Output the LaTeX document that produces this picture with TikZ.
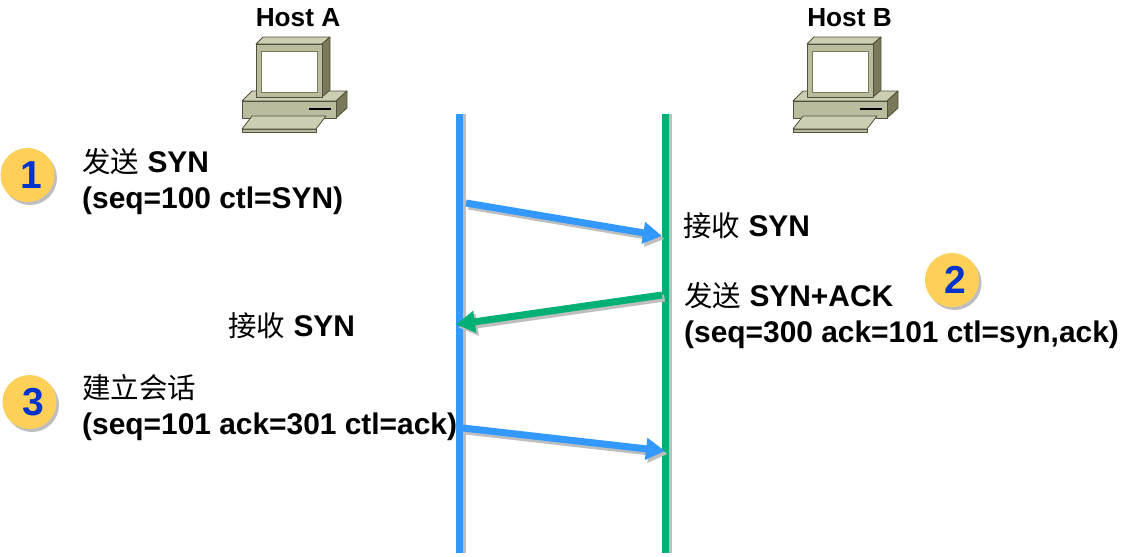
\documentclass[tikz,border=0pt]{standalone}
\usepackage{fontspec}
\setmainfont{Liberation Sans}
\newfontfamily\cjk{Noto Sans CJK SC}
\usetikzlibrary{arrows.meta,positioning}
\definecolor{lineA}{RGB}{51, 153, 255}
\definecolor{lineB}{RGB}{0, 176, 116}
\definecolor{shadowgrey}{RGB}{190, 190, 190}
\definecolor{badgefill}{RGB}{255, 208, 87}
\definecolor{digit}{RGB}{0, 51, 204}
\definecolor{pcface}{RGB}{187, 187, 158}
\definecolor{pclight}{RGB}{205, 205, 178}
\definecolor{pcdark}{RGB}{122, 122, 90}
\definecolor{pcedge}{RGB}{80, 80, 60}
\newcommand{\zh}[1]{{\cjk\mdseries\fontsize{28.5}{36}\selectfont #1}}
\tikzstyle{hostname} = [inner sep=0pt, font=\fontsize{26.2}{30}\selectfont\bfseries]
\tikzstyle{note} = [inner sep=0pt, align=left, anchor=west, font=\fontsize{29.9}{36}\selectfont\bfseries]
\tikzstyle{badgeo} = [circle, fill=badgefill, minimum size=54pt, inner sep=0pt, text=digit, font=\fontsize{39}{39}\selectfont\bfseries]
\tikzstyle{badgeback} = [circle, fill=shadowgrey, minimum size=54pt, inner sep=0pt]
\tikzstyle{life} = [line width=7pt]
\tikzstyle{msg} = [line width=7pt, -{Triangle[length=19pt,width=21pt]}]
\tikzset{
  pics/hostpc/.style={code={
    \begin{scope}[draw=pcedge, line width=0.8pt, line join=round]
    % base
    \draw[fill=pclight] (-46,-6) -- (-36,-16) -- (59,-16) -- (48,-6) -- cycle;
    \draw[fill=pcdark] (48,-6) -- (59,-16) -- (59,1) -- (48,11) -- cycle;
    \draw[fill=pcface] (-46,-6) rectangle (48,11);
    \draw[black, line width=1.2pt] (21,2) -- (43,2);
    % monitor
    \draw[fill=pclight] (-32,-63) -- (-25,-70) -- (42,-70) -- (34,-63) -- cycle;
    \draw[fill=pcdark] (34,-63) -- (42,-70) -- (42,-17) -- (34,-10) -- cycle;
    \draw[fill=pcface] (-32,-63) rectangle (34,-10);
    \draw[fill=white, draw=pcdark] (-27,-56) rectangle (29,-15);
    % keyboard
    \draw[fill=pcface] (-46,22) -- (28,22) -- (28,25) -- (-46,25) -- cycle;
    \draw[fill=pclight] (-36,9) -- (38,9) -- (28,22) -- (-46,22) -- cycle;
    \end{scope}
  }}
}

\begin{document}
\begin{tikzpicture}[x=1pt, y=-1pt]
\useasboundingbox (0,0) rectangle (1128,557);

% hosts =============================
\pic at (288,107) {hostpc};
\pic at (839,107) {hostpc};
\node[hostname] (hosta) at (298,18) {Host A};
\node[hostname] (hostb) at (849.5,18) {Host B};

% lifelines
\coordinate (a0) at (459.5,114);
\coordinate (a1) at (459.5,553);
\coordinate (b0) at (665.5,114);
\coordinate (b1) at (665.5,553);
\draw[life, shadowgrey, transform canvas={xshift=3pt}] (a0) -- (a1);
\draw[life, shadowgrey, transform canvas={xshift=3pt}] (b0) -- (b1);
\draw[life, lineA] (a0) -- (a1);
\draw[life, lineB] (b0) -- (b1);

% messages
\coordinate (m1s) at (466,203);
\coordinate (m1e) at (662,236);
\coordinate (m2s) at (662,295);
\coordinate (m2e) at (456,324.5);
\coordinate (m3s) at (463,428);
\coordinate (m3e) at (665,451);
\foreach \from/\to/\col in {m1s/m1e/lineA, m2s/m2e/lineB, m3s/m3e/lineA} {
  \draw[msg, shadowgrey, transform canvas={xshift=2.5pt,yshift=-3pt}] (\from) -- (\to);
  \draw[msg, \col] (\from) -- (\to);
}

% numbered badges
\foreach \name/\num/\px/\py in {one/1/27.5/175, two/2/952/280, three/3/29.5/402} {
  \node[badgeback] (\name s) at (\px+2.5,\py+3) {};
  \node[badgeo] (\name) at (\px,\py) {\hspace{7pt}\num};
}

% notes
\node[note] (sendsyn) at (82,182) {\zh{发送} SYN\\(seq=100 ctl=SYN)};
\node[note] (recvb) at (683,226) {\zh{接收} SYN};
\node[note] (sendack) at (684,316) {\zh{发送} SYN+ACK\\(seq=300 ack=101 ctl=syn,ack)};
\node[note] (recva) at (228,326) {\zh{接收} SYN};
\node[note] (setup) at (82,407.5) {\zh{建立会话}\\(seq=101 ack=301 ctl=ack)};

\end{tikzpicture}
\end{document}
